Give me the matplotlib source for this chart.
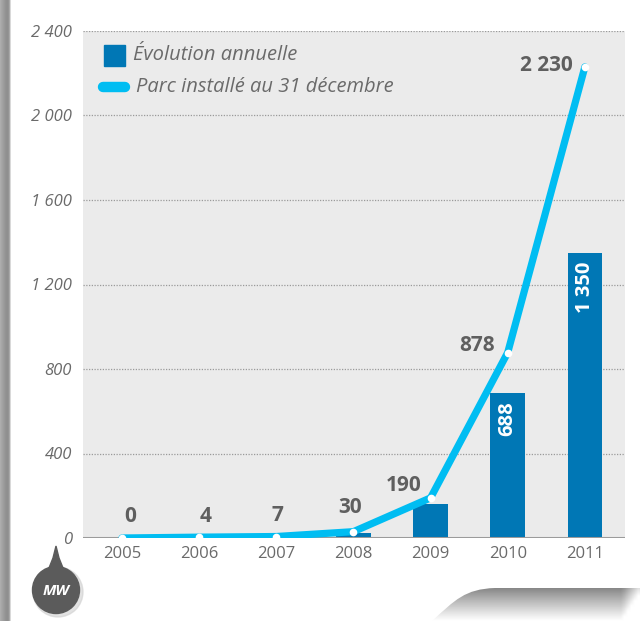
import numpy as np
import matplotlib
matplotlib.use("Agg")
import matplotlib.pyplot as plt
from matplotlib.patches import Rectangle, Circle, Polygon, PathPatch
from matplotlib.path import Path

# data (MW)
years = ["2005", "2006", "2007", "2008", "2009", "2010", "2011"]
annual = [0, 4, 3, 23, 160, 688, 1350]
installed = [0, 4, 7, 30, 190, 878, 2230]
installed_labels = ["0", "4", "7", "30", "190", "878", "2 230"]
annual_labels = ["", "", "", "", "", "688", "1 350"]
yticks = [0, 400, 800, 1200, 1600, 2000, 2400]
ytick_labels = ["0", "400", "800", "1 200", "1 600", "2 000", "2 400"]
legend_labels = ["Évolution annuelle", "Parc installé au 31 décembre"]

BAR = "#0077b5"
LINE = "#00bdf2"
TXT = "#5f5f5f"
TICK = "#6a6a6a"
BG = "#ebebeb"

plt.rcParams["font.family"] = ["Open Sans", "DejaVu Sans"]

W, H = 640, 621
fig = plt.figure(figsize=(W / 100, H / 100), dpi=100)
fig.patch.set_facecolor("white")

# main plot area, placed in pixels
L, R, T, B = 83, 625, 31, 538
ax = fig.add_axes([L / W, 1 - B / H, (R - L) / W, (B - T) / H])
ax.set_zorder(1)
ax.set_facecolor(BG)
x = np.arange(len(years))

ax.bar(x, annual, width=0.45, color=BAR, zorder=2)
ax.plot(x, installed, color=LINE, lw=5.2, solid_capstyle="round",
        solid_joinstyle="round", zorder=3)
ax.plot(x, installed, "o", color="white", ms=5.5, mec="none", zorder=4)

# value labels for the cumulative line (offsets in pixels)
offsets = [(8, 21, "center"), (7, 21, "center"), (1, 21, "center"),
           (-3, 24, "center"), (-9, 12, "right"), (-13, 7, "right"), (-12, 1, "right")]
for i, lab in enumerate(installed_labels):
    dx, dy, ha = offsets[i]
    ax.annotate(lab, (x[i], installed[i]), xytext=(dx, dy), textcoords="offset pixels",
                ha=ha, va="center", fontsize=15, fontweight="bold", color=TXT, zorder=5)

# values written inside the tall bars
for i, lab in enumerate(annual_labels):
    if lab:
        ax.annotate(lab, (x[i], annual[i]), xytext=(0, -9), textcoords="offset pixels",
                    ha="center", va="top", rotation=90, fontsize=14.5,
                    fontweight="bold", color="white", zorder=5)

ax.set_xlim(-0.505, 6.52)
ax.set_ylim(0, 2400)
ax.set_xticks(x)
ax.set_xticklabels(years, fontsize=12, color=TICK)
ax.set_yticks(yticks)
ax.set_yticklabels(ytick_labels, fontsize=12, color=TICK, style="italic")
ax.tick_params(length=0)
ax.tick_params(axis="y", pad=8)
ax.tick_params(axis="x", pad=6)
for v in yticks[1:]:
    ax.axhline(v, color="#9a9a9a", lw=0.9, ls=(0, (1, 1.2)), zorder=1)
ax.axhline(0, color="#9b9b9b", lw=2.2, zorder=2.5)
for s in ax.spines.values():
    s.set_visible(False)

# overlay in pixel coordinates for legend and decorations
ov = fig.add_axes([0, 0, 1, 1])
ov.set_zorder(2)
ov.patch.set_alpha(0)
ov.axis("off")

ov.add_patch(Rectangle((104, 45), 21, 21, color=BAR))
ov.plot([103, 125], [87, 87], color=LINE, lw=7.5, solid_capstyle="round")
ov.text(133, 55, legend_labels[0], fontsize=14.5, style="italic", color=TICK, va="center")
ov.text(136, 87, legend_labels[1], fontsize=14.5, style="italic", color=TICK, va="center")

# grey strip on the left edge
strip = np.array([[0.68, 0.66, 0.64, 0.62, 0.60, 0.58, 0.57, 0.56, 0.58, 0.66, 0.85, 1.0]])
ov.imshow(strip, cmap="gray", vmin=0, vmax=1, extent=[0, 12, H, 0], aspect="auto",
          interpolation="bilinear")

# MW badge (teardrop with the tip pointing at the 0 label)
ov.add_patch(Circle((58, 592), 25, color="#d0d0d0", alpha=0.6))
ov.add_patch(Polygon([[40, 582], [49, 568], [53, 558], [56, 546], [59, 558],
                      [63, 568], [72, 582]], closed=True, color="#5b5b5b"))
ov.add_patch(Circle((56, 590), 23.5, color="#5b5b5b"))
ov.text(56, 591, "MW", fontsize=11, fontweight="bold", style="italic",
        color="white", ha="center", va="center")

# page curl shadow bottom right
verts = [(432, 621), (455, 600), (465, 589), (495, 588), (640, 588), (640, 621), (432, 621)]
codes = [Path.MOVETO, Path.CURVE4, Path.CURVE4, Path.CURVE4, Path.LINETO, Path.LINETO, Path.CLOSEPOLY]
curl = PathPatch(Path(verts, codes), facecolor="none", edgecolor="none")
ov.add_patch(curl)
gy = np.linspace(0.42, 1.0, 40)[:, None] ** 0.8 * np.ones((1, 60))
gx = np.linspace(0, 1, 60)[None, :]
grad = np.clip(gy + 0.35 * np.clip(gx - 0.92, 0, 1) / 0.08, 0, 1)
im = ov.imshow(grad, cmap="gray", vmin=0, vmax=1, extent=[432, 640, 621, 586],
               aspect="auto", interpolation="bilinear")
im.set_clip_path(curl)
ov.set_xlim(0, W)
ov.set_ylim(H, 0)

fig.savefig("out.png", dpi=100)
